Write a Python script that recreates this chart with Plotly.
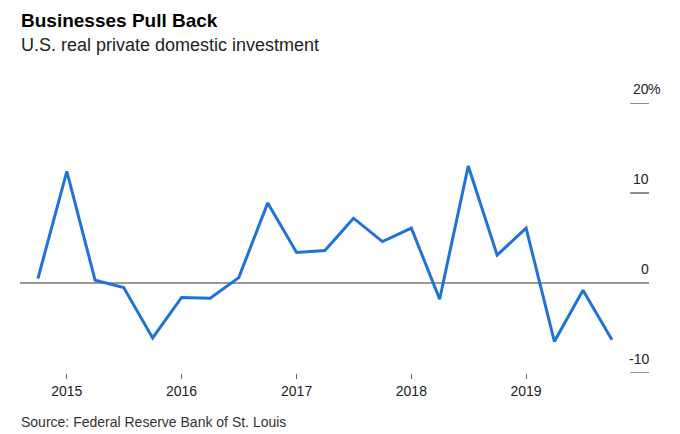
import plotly.graph_objects as go

quarters = ["2014-10-01",
            "2015-01-01", "2015-04-01", "2015-07-01", "2015-10-01",
            "2016-01-01", "2016-04-01", "2016-07-01", "2016-10-01",
            "2017-01-01", "2017-04-01", "2017-07-01", "2017-10-01",
            "2018-01-01", "2018-04-01", "2018-07-01", "2018-10-01",
            "2019-01-01", "2019-04-01", "2019-07-01", "2019-10-01"]
investment = [0.5, 12.4, 0.3, -0.5, -6.1,
              -1.6, -1.7, 0.6, 8.9,
              3.4, 3.6, 7.2, 4.6,
              6.1, -1.8, 13.0, 3.1,
              6.1, -6.5, -0.8, -6.3]
year_ticks = ["2015-01-01", "2016-01-01", "2017-01-01", "2018-01-01", "2019-01-01"]
year_labels = ["2015", "2016", "2017", "2018", "2019"]
y_ticks = [20, 10, 0, -10]
y_labels = ["20", "10", "0", "-10"]
y_suffix = "%"

FONT = "Liberation Sans, Arial, sans-serif"

fig = go.Figure()
fig.add_trace(go.Scatter(x=quarters, y=investment, mode="lines",
                         line=dict(color="#1f73d6", width=3),
                         hoverinfo="x+y", showlegend=False))

shapes = [dict(type="line", xref="paper", yref="y", x0=0, x1=1, y0=0, y1=0,
               line=dict(color="#777777", width=1.5), layer="below")]
annotations = []
for i, (v, lab) in enumerate(zip(y_ticks, y_labels)):
    if v != 0:
        shapes.append(dict(type="line", xref="paper", yref="y", x0=0.97, x1=1.0,
                           y0=v, y1=v, line=dict(color="#444444", width=1.2)))
    annotations.append(dict(xref="paper", yref="y", x=1.0, y=v, text=lab,
                            showarrow=False, xanchor="right", yanchor="bottom",
                            yshift=4, xshift=2,
                            font=dict(family=FONT, size=14, color="#222222")))
    if i == 0:
        annotations.append(dict(xref="paper", yref="y", x=1.0, y=v, text=y_suffix,
                                showarrow=False, xanchor="left", yanchor="bottom",
                                yshift=4, xshift=-3,
                                font=dict(family=FONT, size=14, color="#222222")))

annotations += [
    dict(xref="paper", yref="paper", x=-0.002, y=1.0, yshift=95, text="<b>Businesses Pull Back</b>",
         showarrow=False, xanchor="left", yanchor="top",
         font=dict(family=FONT, size=19, color="#000000")),
    dict(xref="paper", yref="paper", x=-0.002, y=1.0, yshift=70, text="U.S. real private domestic investment",
         showarrow=False, xanchor="left", yanchor="top",
         font=dict(family=FONT, size=18, color="#222222")),
    dict(xref="paper", yref="paper", x=-0.002, y=0, yshift=-39, text="Source: Federal Reserve Bank of St. Louis",
         showarrow=False, xanchor="left", yanchor="top",
         font=dict(family=FONT, size=14, color="#333333")),
]

fig.update_layout(
    width=680, height=434,
    margin=dict(l=20, r=31, t=103, b=61),
    paper_bgcolor="white", plot_bgcolor="white",
    shapes=shapes, annotations=annotations,
    xaxis=dict(type="date", range=["2014-08-05", "2020-01-27"],
               tickvals=year_ticks, ticktext=year_labels,
               ticks="outside", ticklen=5, tickwidth=1, tickcolor="#666666",
               showgrid=False, zeroline=False, showline=False,
               tickfont=dict(family=FONT, size=14, color="#222222")),
    yaxis=dict(range=[-10, 20], showticklabels=False, showgrid=False,
               zeroline=False, showline=False, ticks=""),
)

fig.write_html("out.html", config={"displayModeBar": False},
               post_script="document.body.style.margin='0';")
